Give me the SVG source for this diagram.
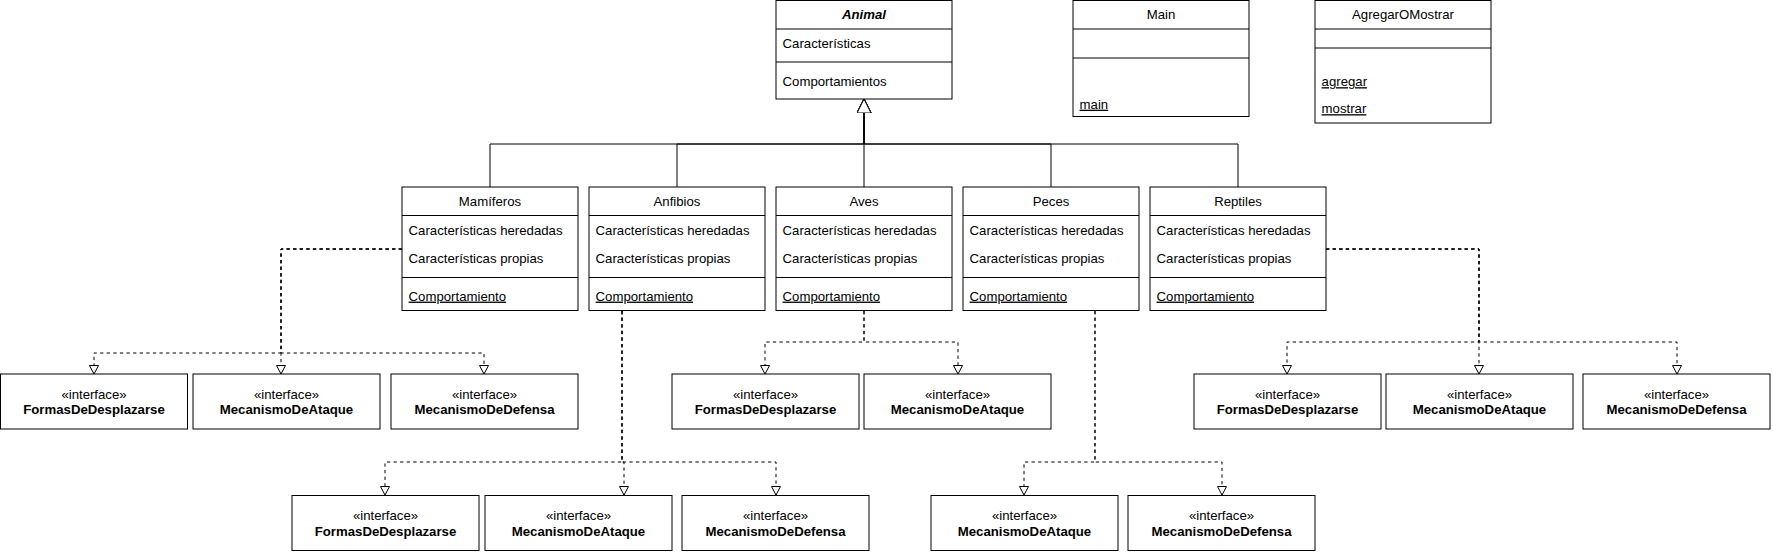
<svg xmlns="http://www.w3.org/2000/svg" width="1773" height="552" viewBox="0 0 1773 552">
<style>
.box{fill:#fff;stroke:#000;stroke-width:1}
.sep{stroke:#000;stroke-width:1}
text{font-family:"Liberation Sans",Arial,Helvetica,sans-serif;font-size:13.2px;fill:#000}
.c{text-anchor:middle}
.b{font-weight:bold}
.u{text-decoration:underline}
.inh{fill:none;stroke:#000;stroke-width:1}
.real{fill:none;stroke:#000;stroke-width:1;stroke-dasharray:3.3 3.3}
</style>
<defs>
<marker id="tri" markerUnits="userSpaceOnUse" markerWidth="16" markerHeight="16" refX="14" refY="7" orient="auto">
<path d="M0,0 L14,7 L0,14 Z" fill="#fff" stroke="#000" stroke-width="1"/>
</marker>
<marker id="rtri" markerUnits="userSpaceOnUse" markerWidth="12" markerHeight="12" refX="9" refY="5" orient="auto">
<path d="M0.5,0.5 L9,5 L0.5,9.5 Z" fill="#fff" stroke="#000" stroke-width="1"/>
</marker>
</defs>

<g id="connectors">
<path class="inh" d="M490,187 V144 H864 V99" marker-end="url(#tri)"/>
<path class="inh" d="M677,187 V144 H864 V99" marker-end="url(#tri)"/>
<path class="inh" d="M864,187 V99" marker-end="url(#tri)"/>
<path class="inh" d="M1051,187 V144 H864 V99" marker-end="url(#tri)"/>
<path class="inh" d="M1238,187 V144 H864 V99" marker-end="url(#tri)"/>

<path class="real" d="M402,249 H281 V353 H94 V374" marker-end="url(#rtri)"/>
<path class="real" d="M402,249 H281 V374" marker-end="url(#rtri)"/>
<path class="real" d="M402,249 H281 V353 H484 V374" marker-end="url(#rtri)"/>

<path class="real" d="M622,311 V462 H385 V495" marker-end="url(#rtri)"/>
<path class="real" d="M622,311 V462 H624 V495" marker-end="url(#rtri)"/>
<path class="real" d="M622,311 V462 H776 V495" marker-end="url(#rtri)"/>

<path class="real" d="M864,311 V342 H765 V374" marker-end="url(#rtri)"/>
<path class="real" d="M864,311 V342 H958 V374" marker-end="url(#rtri)"/>

<path class="real" d="M1095,311 V462 H1024 V495" marker-end="url(#rtri)"/>
<path class="real" d="M1095,311 V462 H1222 V495" marker-end="url(#rtri)"/>

<path class="real" d="M1326,249 H1479 V342 H1287 V374" marker-end="url(#rtri)"/>
<path class="real" d="M1326,249 H1479 V374" marker-end="url(#rtri)"/>
<path class="real" d="M1326,249 H1479 V342 H1677 V374" marker-end="url(#rtri)"/>
</g>

<g id="animal">
<rect class="box" x="776" y="0.5" width="176" height="98.5"/>
<line class="sep" x1="776" y1="29" x2="952" y2="29"/>
<line class="sep" x1="776" y1="62" x2="952" y2="62"/>
<text class="c b" x="864" y="19" font-style="italic">Animal</text>
<text x="782.6" y="48">Características</text>
<text x="782.6" y="86">Comportamientos</text>
</g>

<g id="main">
<rect class="box" x="1073" y="0.5" width="176" height="116"/>
<line class="sep" x1="1073" y1="29" x2="1249" y2="29"/>
<line class="sep" x1="1073" y1="58" x2="1249" y2="58"/>
<text class="c" x="1161" y="19">Main</text>
<text class="u" x="1079.6" y="108.7">main</text>
</g>

<g id="agregarOMostrar">
<rect class="box" x="1315" y="0.5" width="176" height="122.5"/>
<line class="sep" x1="1315" y1="29" x2="1491" y2="29"/>
<line class="sep" x1="1315" y1="48" x2="1491" y2="48"/>
<text class="c" x="1403" y="19">AgregarOMostrar</text>
<text class="u" x="1321.6" y="86.2">agregar</text>
<text class="u" x="1321.6" y="113.2">mostrar</text>
</g>

<g id="mamiferos">
<rect class="box" x="402" y="187" width="176" height="123.5"/>
<line class="sep" x1="402" y1="215.5" x2="578" y2="215.5"/>
<line class="sep" x1="402" y1="277.5" x2="578" y2="277.5"/>
<text class="c" x="490" y="206">Mamíferos</text>
<text x="408.6" y="234.6">Características heredadas</text>
<text x="408.6" y="263.2">Características propias</text>
<text class="u" x="408.6" y="300.6">Comportamiento</text>
</g>

<g id="anfibios">
<rect class="box" x="589" y="187" width="176" height="123.5"/>
<line class="sep" x1="589" y1="215.5" x2="765" y2="215.5"/>
<line class="sep" x1="589" y1="277.5" x2="765" y2="277.5"/>
<text class="c" x="677" y="206">Anfibios</text>
<text x="595.6" y="234.6">Características heredadas</text>
<text x="595.6" y="263.2">Características propias</text>
<text class="u" x="595.6" y="300.6">Comportamiento</text>
</g>

<g id="aves">
<rect class="box" x="776" y="187" width="176" height="123.5"/>
<line class="sep" x1="776" y1="215.5" x2="952" y2="215.5"/>
<line class="sep" x1="776" y1="277.5" x2="952" y2="277.5"/>
<text class="c" x="864" y="206">Aves</text>
<text x="782.6" y="234.6">Características heredadas</text>
<text x="782.6" y="263.2">Características propias</text>
<text class="u" x="782.6" y="300.6">Comportamiento</text>
</g>

<g id="peces">
<rect class="box" x="963" y="187" width="176" height="123.5"/>
<line class="sep" x1="963" y1="215.5" x2="1139" y2="215.5"/>
<line class="sep" x1="963" y1="277.5" x2="1139" y2="277.5"/>
<text class="c" x="1051" y="206">Peces</text>
<text x="969.6" y="234.6">Características heredadas</text>
<text x="969.6" y="263.2">Características propias</text>
<text class="u" x="969.6" y="300.6">Comportamiento</text>
</g>

<g id="reptiles">
<rect class="box" x="1150" y="187" width="176" height="123.5"/>
<line class="sep" x1="1150" y1="215.5" x2="1326" y2="215.5"/>
<line class="sep" x1="1150" y1="277.5" x2="1326" y2="277.5"/>
<text class="c" x="1238" y="206">Reptiles</text>
<text x="1156.6" y="234.6">Características heredadas</text>
<text x="1156.6" y="263.2">Características propias</text>
<text class="u" x="1156.6" y="300.6">Comportamiento</text>
</g>

<g id="m-formas"><rect class="box" x="0.5" y="374" width="187" height="55"/><text class="c" x="94" y="398.5">«interface»</text><text class="c b" x="94" y="414.3">FormasDeDesplazarse</text></g>
<g id="m-ataque"><rect class="box" x="193" y="374" width="187" height="55"/><text class="c" x="286.5" y="398.5">«interface»</text><text class="c b" x="286.5" y="414.3">MecanismoDeAtaque</text></g>
<g id="m-defensa"><rect class="box" x="391" y="374" width="187" height="55"/><text class="c" x="484.5" y="398.5">«interface»</text><text class="c b" x="484.5" y="414.3">MecanismoDeDefensa</text></g>

<g id="av-formas"><rect class="box" x="672" y="374" width="187" height="55"/><text class="c" x="765.5" y="398.5">«interface»</text><text class="c b" x="765.5" y="414.3">FormasDeDesplazarse</text></g>
<g id="av-ataque"><rect class="box" x="864" y="374" width="187" height="55"/><text class="c" x="957.5" y="398.5">«interface»</text><text class="c b" x="957.5" y="414.3">MecanismoDeAtaque</text></g>

<g id="r-formas"><rect class="box" x="1194" y="374" width="187" height="55"/><text class="c" x="1287.5" y="398.5">«interface»</text><text class="c b" x="1287.5" y="414.3">FormasDeDesplazarse</text></g>
<g id="r-ataque"><rect class="box" x="1386" y="374" width="187" height="55"/><text class="c" x="1479.5" y="398.5">«interface»</text><text class="c b" x="1479.5" y="414.3">MecanismoDeAtaque</text></g>
<g id="r-defensa"><rect class="box" x="1583" y="374" width="187" height="55"/><text class="c" x="1676.5" y="398.5">«interface»</text><text class="c b" x="1676.5" y="414.3">MecanismoDeDefensa</text></g>

<g id="an-formas"><rect class="box" x="292" y="495.5" width="187" height="55"/><text class="c" x="385.5" y="519.8">«interface»</text><text class="c b" x="385.5" y="535.6">FormasDeDesplazarse</text></g>
<g id="an-ataque"><rect class="box" x="485" y="495.5" width="187" height="55"/><text class="c" x="578.5" y="519.8">«interface»</text><text class="c b" x="578.5" y="535.6">MecanismoDeAtaque</text></g>
<g id="an-defensa"><rect class="box" x="682" y="495.5" width="187" height="55"/><text class="c" x="775.5" y="519.8">«interface»</text><text class="c b" x="775.5" y="535.6">MecanismoDeDefensa</text></g>

<g id="p-ataque"><rect class="box" x="931" y="495.5" width="187" height="55"/><text class="c" x="1024.5" y="519.8">«interface»</text><text class="c b" x="1024.5" y="535.6">MecanismoDeAtaque</text></g>
<g id="p-defensa"><rect class="box" x="1128" y="495.5" width="187" height="55"/><text class="c" x="1221.5" y="519.8">«interface»</text><text class="c b" x="1221.5" y="535.6">MecanismoDeDefensa</text></g>
</svg>
